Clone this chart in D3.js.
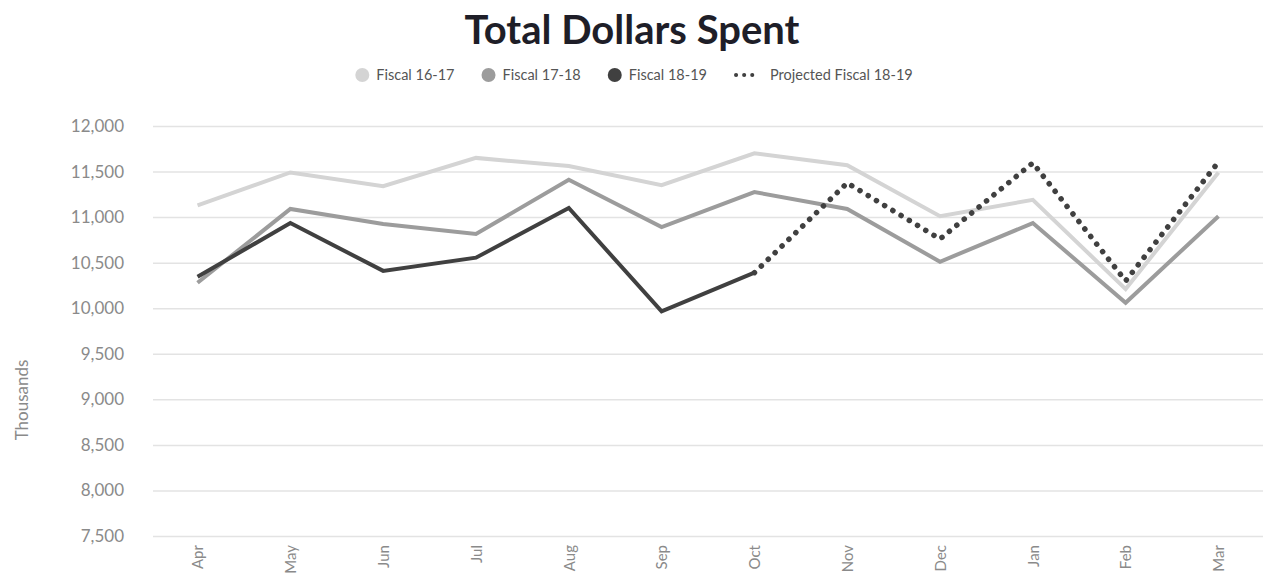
<!DOCTYPE html>
<html>
<head>
<meta charset="utf-8">
<script src="https://cdn.jsdelivr.net/npm/d3@7"></script>
<style>
  body { margin: 0; background: #fff; }
  svg { display: block; font-family: Lato, "Open Sans", sans-serif; }
</style>
</head>
<body>
<div id="chart"></div>
<script>
// chart data
var months = ["Apr", "May", "Jun", "Jul", "Aug", "Sep", "Oct", "Nov", "Dec", "Jan", "Feb", "Mar"];
var fiscal1617 = [11130, 11490, 11340, 11650, 11560, 11350, 11700, 11570, 11010, 11190, 10210, 11490];
var fiscal1718 = [10280, 11090, 10925, 10815, 11410, 10890, 11275, 11090, 10510, 10935, 10060, 11010];
var fiscal1819 = [10345, 10935, 10410, 10555, 11100, 9965, 10390, null, null, null, null, null];
var projected1819 = [null, null, null, null, null, null, 10390, 11375, 10760, 11595, 10300, 11605];
var yTicks = [7500, 8000, 8500, 9000, 9500, 10000, 10500, 11000, 11500, 12000];

// svg dimensions
var svgWidth = 1278;
var svgHeight = 586;
var margin = { top: 126, right: 15, bottom: 50, left: 153 };
var chartWidth = svgWidth - margin.left - margin.right;
var chartHeight = svgHeight - margin.top - margin.bottom;

var svg = d3.select("#chart").append("svg")
    .attr("width", svgWidth)
    .attr("height", svgHeight);

var chartGroup = svg.append("g")
    .attr("transform", `translate(${margin.left}, ${margin.top})`);

// scales
var xScale = d3.scalePoint()
    .domain(months)
    .range([0, chartWidth])
    .padding(0.48);

var yScale = d3.scaleLinear()
    .domain([7500, 12000])
    .range([chartHeight, 0]);

// gridlines
chartGroup.append("g")
    .call(d3.axisLeft(yScale).tickValues(yTicks).tickSize(-chartWidth).tickFormat(""))
    .call(g => g.select(".domain").remove())
    .selectAll("line")
    .attr("stroke", "#e3e3e3")
    .attr("stroke-width", 1.5);

// y axis labels
chartGroup.append("g")
    .attr("transform", "translate(-26, 0)")
    .call(d3.axisLeft(yScale).tickValues(yTicks).tickSize(0).tickFormat(d3.format(",")))
    .call(g => g.select(".domain").remove())
    .selectAll("text")
    .attr("fill", "#8a8a8a")
    .attr("font-size", 17)
    .attr("font-family", "Lato, sans-serif");

// x axis labels
chartGroup.append("g")
    .attr("transform", `translate(0, ${chartHeight})`)
    .call(d3.axisBottom(xScale).tickSize(0))
    .call(g => g.select(".domain").remove())
    .selectAll("text")
    .attr("fill", "#8a8a8a")
    .attr("font-size", 15)
    .attr("font-family", "Lato, sans-serif")
    .attr("transform", "rotate(-90)")
    .attr("text-anchor", "end")
    .attr("x", -9)
    .attr("y", 0)
    .attr("dy", "0.35em");

// y axis title
svg.append("text")
    .attr("transform", "translate(28, 400) rotate(-90)")
    .attr("text-anchor", "middle")
    .attr("fill", "#8a8a8a")
    .attr("font-size", 17)
    .text("Thousands");

// lines
var line = d3.line()
    .defined(d => d != null)
    .x((d, i) => xScale(months[i]))
    .y(d => yScale(d));

var series = [
    { values: fiscal1617, color: "#d4d4d4", dash: null },
    { values: fiscal1718, color: "#9c9c9c", dash: null },
    { values: fiscal1819, color: "#404040", dash: null },
    { values: projected1819, color: "#404040", dash: "0.1,9.5" }
];

series.forEach(function (s) {
    chartGroup.append("path")
        .attr("d", line(s.values))
        .attr("fill", "none")
        .attr("stroke", s.color)
        .attr("stroke-width", s.dash ? 5.5 : 4)
        .attr("stroke-linejoin", "miter")
        .attr("stroke-linecap", s.dash ? "round" : "butt")
        .attr("stroke-dasharray", s.dash);
});

// title
svg.append("text")
    .attr("x", 632)
    .attr("y", 44)
    .attr("text-anchor", "middle")
    .attr("font-size", 40)
    .attr("font-weight", 700)
    .attr("fill", "#1e1e28")
    .text("Total Dollars Spent");

// legend
var legendItems = [
    { label: "Fiscal 16-17", color: "#d4d4d4", dotted: false },
    { label: "Fiscal 17-18", color: "#9c9c9c", dotted: false },
    { label: "Fiscal 18-19", color: "#404040", dotted: false },
    { label: "Projected Fiscal 18-19", color: "#404040", dotted: true }
];

var legend = svg.append("g");
var cursor = 0;
legendItems.forEach(function (item) {
    var g = legend.append("g").attr("transform", `translate(${cursor}, 0)`);
    var symbolWidth;
    if (item.dotted) {
        g.append("line")
            .attr("x1", 2).attr("x2", 26)
            .attr("y1", 0).attr("y2", 0)
            .attr("stroke", item.color)
            .attr("stroke-width", 4)
            .attr("stroke-linecap", "round")
            .attr("stroke-dasharray", "0.1,8");
        symbolWidth = 36;
    } else {
        g.append("circle")
            .attr("cx", 7).attr("cy", 0).attr("r", 7)
            .attr("fill", item.color);
        symbolWidth = 21;
    }
    var t = g.append("text")
        .attr("x", symbolWidth)
        .attr("dy", "0.35em")
        .attr("font-size", 14.5)
        .attr("fill", "#555")
        .text(item.label);
    cursor += symbolWidth + t.node().getComputedTextLength() + 27;
});
var legendWidth = cursor - 27;
legend.attr("transform", `translate(${634 - legendWidth / 2}, 75)`);
</script>
</body>
</html>
